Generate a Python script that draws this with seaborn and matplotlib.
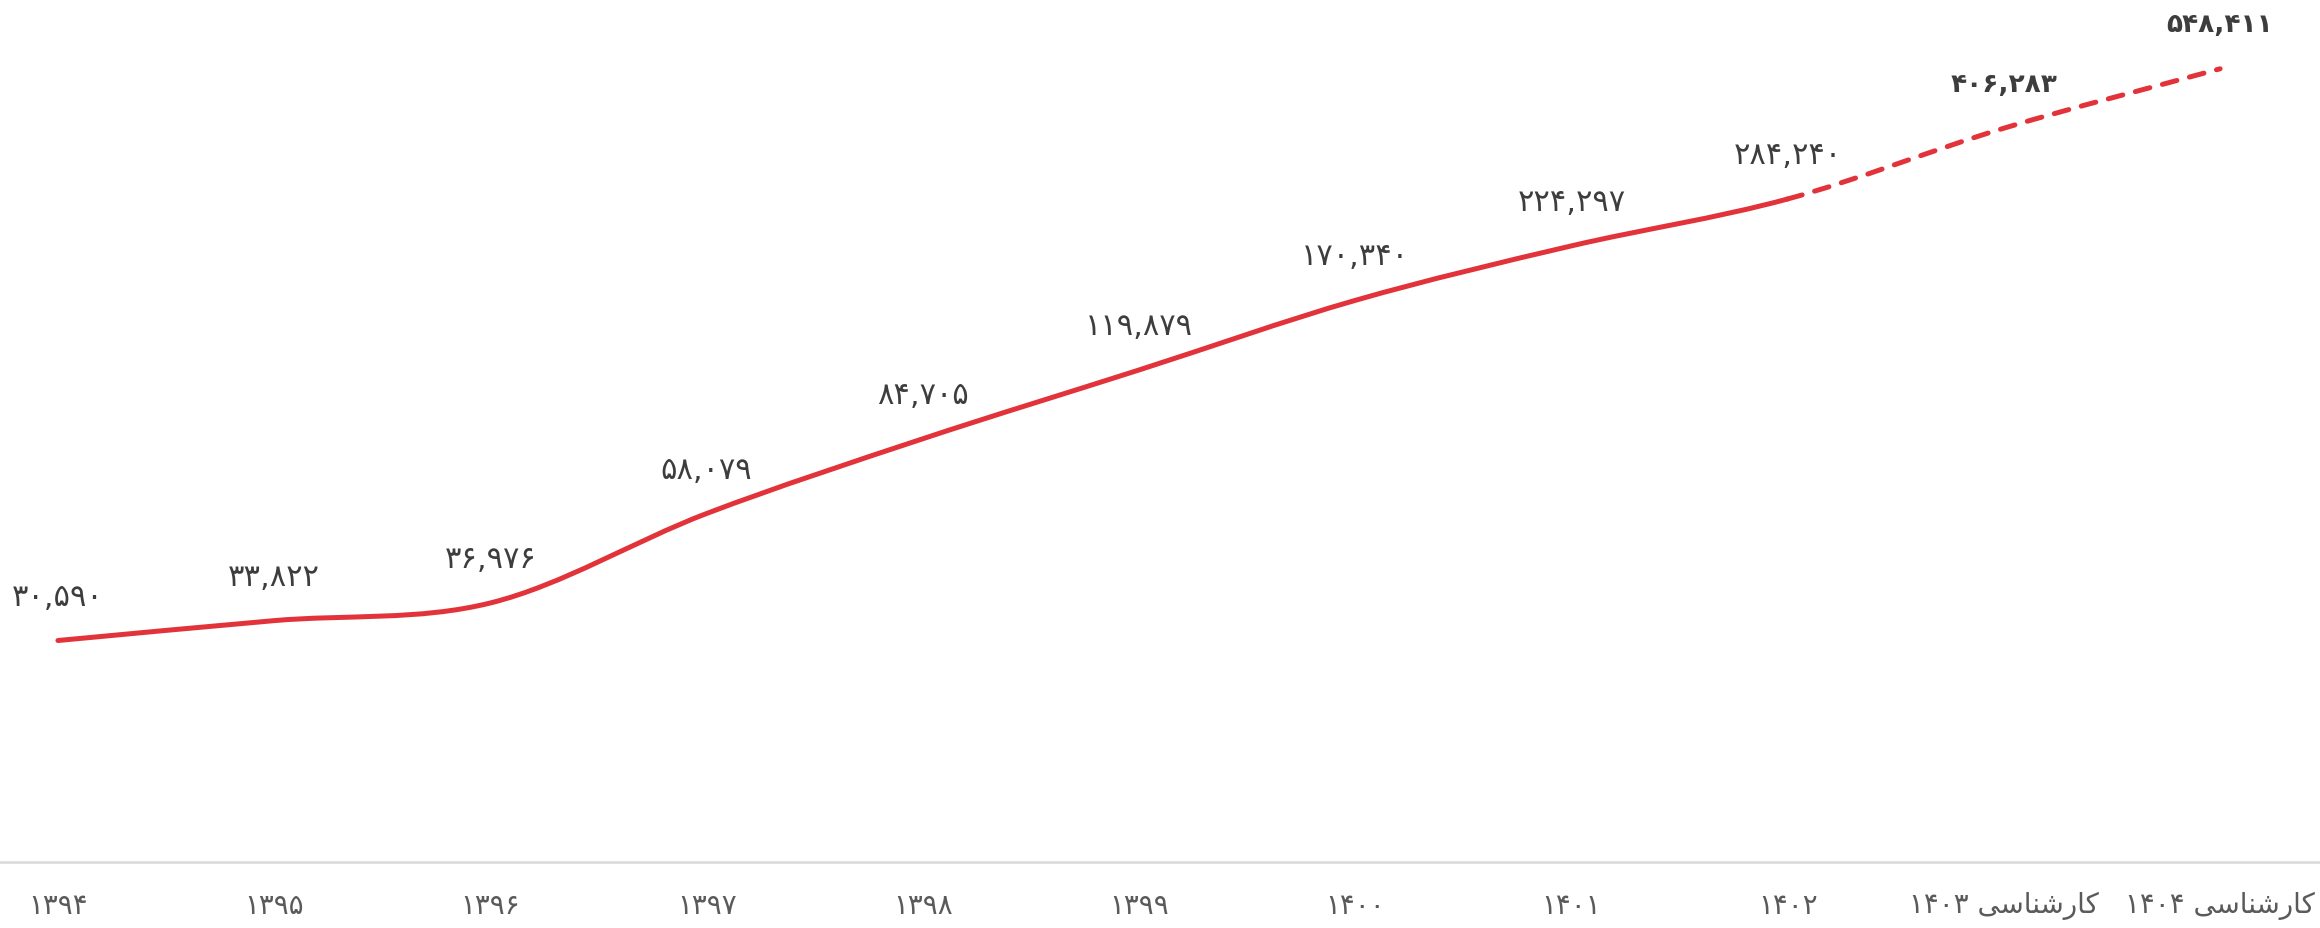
import numpy as np
import seaborn as sns
import matplotlib
matplotlib.use("Agg")
import matplotlib.pyplot as plt
from matplotlib.path import Path
from matplotlib.patches import PathPatch

# data
years = ["1394", "1395", "1396", "1397", "1398", "1399", "1400", "1401", "1402", "1403", "1404"]
projected = [False, False, False, False, False, False, False, False, False, True, True]
values = [30590, 33822, 36976, 58079, 84705, 119879, 170340, 224297, 284240, 406283, 548411]
proj_word = "کارشناسی"

RED = "#e3333a"
TXT = "#3d3d3d"
TICK = "#5a5a5a"

sns.set_theme(style="white")
plt.rcParams["font.family"] = ["DejaVu Sans"]

fa_digits = str.maketrans("0123456789", "۰۱۲۳۴۵۶۷۸۹")

# matplotlib has no arabic shaping, so the word is written in visual order
# with presentation forms
shaped = {"کارشناسی": "\uFBFD\uFEB3\uFE8E\uFEE8\uFEB7\uFEAD\uFE8E\uFB90"}


def fa_num(v):
    return f"{v:,}".translate(fa_digits)


def tick_label(year, proj):
    y = year.translate(fa_digits)
    if proj:
        return y + " " + shaped[proj_word]
    return y


fig = plt.figure(figsize=(23.2, 9.29), dpi=100)
ax = fig.add_axes([0, 66 / 929, 1, 863 / 929])
ax.set_yscale("log")

x = np.arange(len(values))
L = np.log10(values)
d = np.diff(L)
m = np.empty_like(L)
m[1:-1] = (d[:-1] + d[1:]) / 2
m[0] = d[0]
m[-1] = d[-1]


def curve(i0, i1):
    verts = [(x[i0], values[i0])]
    codes = [Path.MOVETO]
    for k in range(i0, i1):
        verts += [(x[k] + 1 / 3, 10 ** (L[k] + m[k] / 3)),
                  (x[k + 1] - 1 / 3, 10 ** (L[k + 1] - m[k + 1] / 3)),
                  (x[k + 1], values[k + 1])]
        codes += [Path.CURVE4] * 3
    return Path(verts, codes)


last_real = max(i for i, p in enumerate(projected) if not p)
solid = PathPatch(curve(0, last_real), fill=False, edgecolor=RED, lw=3.6,
                  capstyle="round", joinstyle="round")
dashed = PathPatch(curve(last_real, len(values) - 1), fill=False, edgecolor=RED, lw=3.6,
                   capstyle="round", linestyle=(0, (3, 2.6)))
ax.add_patch(solid)
ax.add_patch(dashed)

for i, v in enumerate(values):
    ax.annotate(fa_num(v), (x[i], v), xytext=(0, 32), textcoords="offset points",
                ha="center", va="center", fontsize=19 if projected[i] else 22,
                color=TXT, fontweight="bold" if projected[i] else "normal")

ax.set_xlim(-0.268, 10.462)
ax.set_ylim(10000, 780000)
ax.set_xticks(x)
ax.set_xticklabels([tick_label(y, p) for y, p in zip(years, projected)],
                   fontsize=20, color=TICK)
ax.set_yticks([])
ax.minorticks_off()
ax.tick_params(axis="x", length=0, pad=21)
ax.tick_params(axis="y", which="both", left=False, labelleft=False)
sns.despine(ax=ax, left=True, top=True, right=True)
ax.spines["bottom"].set_color("#d9d9d9")
ax.spines["bottom"].set_linewidth(1.8)
ax.grid(False)

fig.savefig("out.png", dpi=100, facecolor="white")
